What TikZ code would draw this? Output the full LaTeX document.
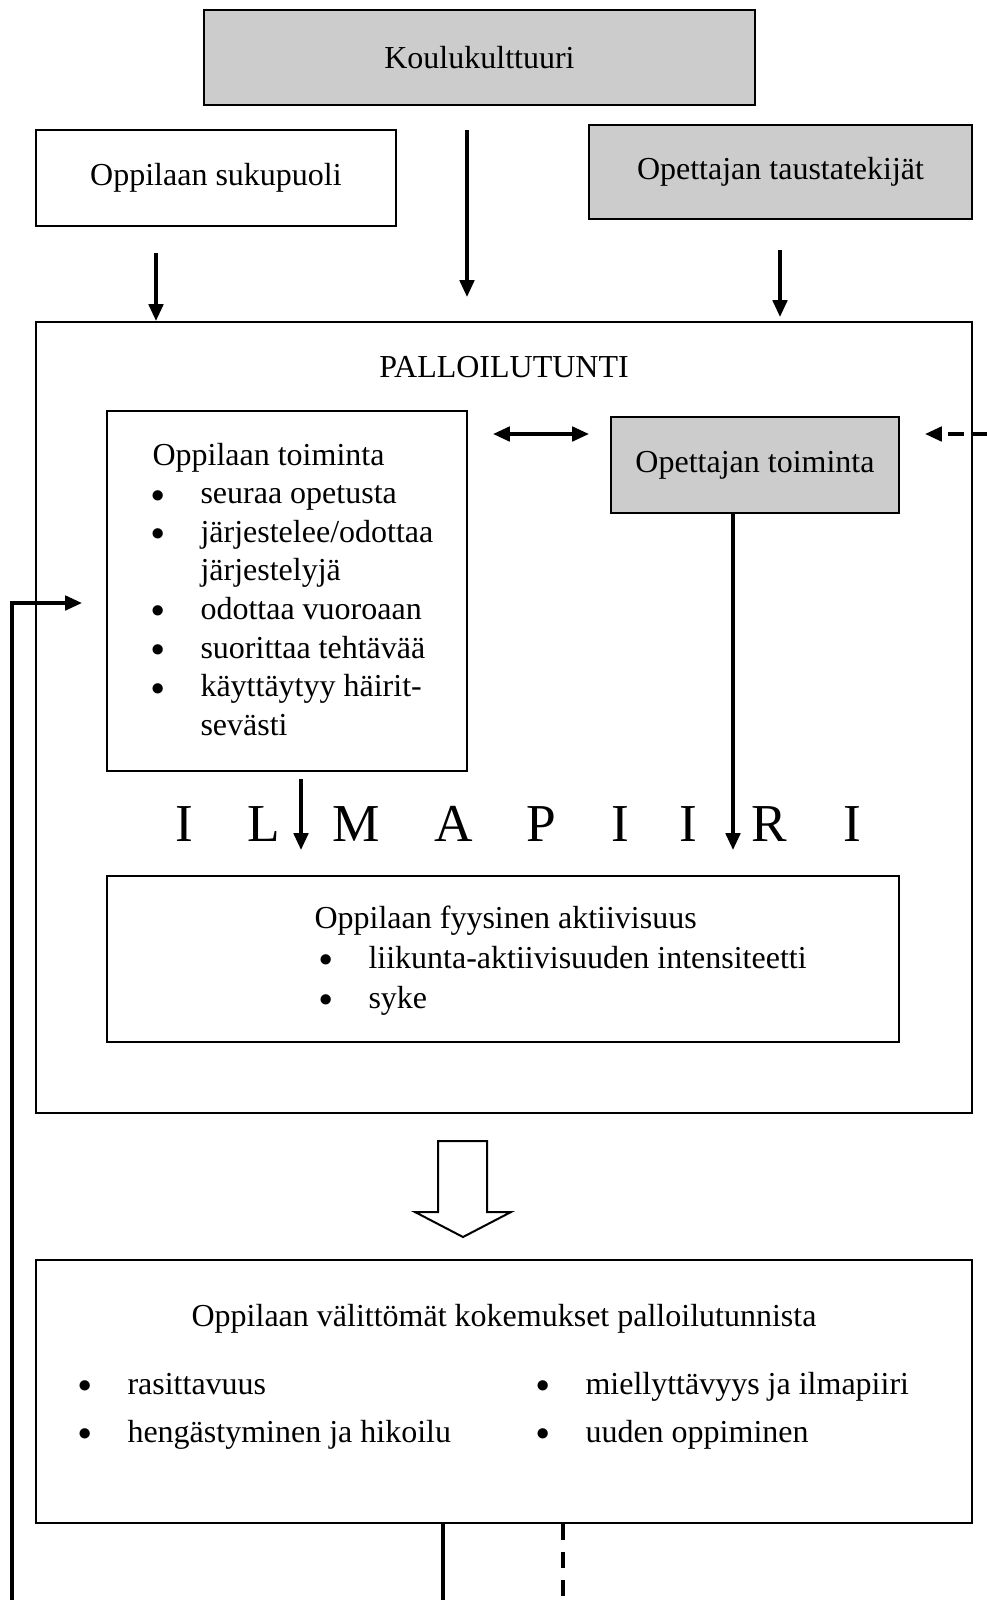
\documentclass[tikz,border=0pt]{standalone}
\usepackage{fontspec}
\setmainfont{Liberation Serif}
\usetikzlibrary{arrows.meta}
\definecolor{boxgrey}{HTML}{CCCCCC}
\newcommand\bul{\llap{\raisebox{0.6pt}{\fontsize{10}{12}\selectfont$\bullet$}\hspace{13.5pt}}}
\tikzset{
	box/.style 2 args={draw, line width=0.75pt, inner sep=0pt, minimum width=#1*0.375pt, minimum height=#2*0.375pt, font=\fontsize{12}{14.5}\selectfont},
	greybox/.style 2 args={box={#1}{#2}, fill=boxgrey},
	txt/.style={anchor=base west, inner sep=0pt, font=\fontsize{12}{14.5}\selectfont},
	ilma/.style={anchor=base, inner sep=0pt, font=\fontsize{20}{24}\selectfont},
	arr/.style={line width=1.3pt, -{Triangle[length=6.3pt,width=5.4pt]}},
	dbl/.style={line width=1.3pt, {Triangle[length=6.3pt,width=5.4pt]}-{Triangle[length=6.3pt,width=5.4pt]}},
}
\begin{document}
\begin{tikzpicture}[x=0.375pt,y=-0.375pt]
	\useasboundingbox (0,0) rectangle (987,1600);

	\node[greybox={551}{95}] (koulu) at (479.5,57.5) {Koulukulttuuri};
	\node[box={360}{96}] (sukupuoli) at (216,178) {Oppilaan sukupuoli};
	\node[greybox={383}{94}] (tausta) at (780.5,172) {Opettajan taustatekijät};
	\node[box={936}{791}] (tunti) at (504,717.5) {};
	\node[box={360}{360}] (oppilas) at (287,591) {};
	\node[greybox={288}{96}] (opettaja) at (755,465) {Opettajan toiminta};
	\node[box={792}{166}] (fyysinen) at (503,959) {};
	\node[box={936}{263}] (kokemus) at (504,1391.5) {};

	\node[txt, anchor=base] (tuntiotsikko) at (504,377) {PALLOILUTUNTI};

	\node[txt] (ot0) at (152,465) {Oppilaan toiminta};
	\foreach \t/\b [count=\i] in {seuraa opetusta/\bul, järjestelee\slash odottaa/\bul, järjestelyjä/, odottaa vuoroaan/\bul, suorittaa tehtävää/\bul, käyttäytyy häirit-/\bul, sevästi/}
		\node[txt] (ot\i) at (200,{465+38.6*\i}) {\b\t};

	\foreach \l/\x [count=\i] in {I/184, L/264, M/356, A/454, P/541, I/620, I/688, R/769, I/852}
		\node[ilma] (ilma\i) at (\x,841) {\l};

	\node[txt] (fa0) at (314,928) {Oppilaan fyysinen aktiivisuus};
	\node[txt] (fa1) at (368,968) {\bul liikunta-aktiivisuuden intensiteetti};
	\node[txt] (fa2) at (368,1008) {\bul syke};

	\node[txt, anchor=base] (ko0) at (504,1326) {Oppilaan välittömät kokemukset palloilutunnista};
	\node[txt] (ko1) at (127,1394) {\bul rasittavuus};
	\node[txt] (ko2) at (127,1442) {\bul hengästyminen ja hikoilu};
	\node[txt] (ko3) at (585,1394) {\bul miellyttävyys ja ilmapiiri};
	\node[txt] (ko4) at (585,1442) {\bul uuden oppiminen};

	\coordinate (s1) at (156,253);
	\coordinate (k1) at (467,130);
	\coordinate (k2) at (467,297);
	\coordinate (t1) at (780,250);
	\coordinate (t2) at (780,317);
	\draw[arr] (s1) -- (s1 |- tunti.north);
	\draw[arr] (k1) -- (k2);
	\draw[arr] (t1) -- (t2);

	\coordinate (v1) at (493,434);
	\coordinate (v2) at (589,434);
	\draw[dbl] (v1) -- (v2);
	\coordinate (d1) at (987,434);
	\coordinate (d2) at (925,434);
	\draw[arr, dash pattern=on 6pt off 2.6pt] (d1) -- (d2);

	\coordinate (f1) at (12,1600);
	\coordinate (f2) at (82,603);
	\draw[arr] (f1) |- (f2);

	\coordinate (a1) at (301,779);
	\coordinate (a2) at (301,850);
	\coordinate (a3) at (733,850);
	\draw[arr] (a1) -- (a2);
	\draw[arr] (a3 |- opettaja.south) -- (a3);

	\draw[line width=0.75pt] (438,1141) -- (487,1141) -- (487,1212) -- (511,1212) -- (463,1237) -- (415,1212) -- (438,1212) -- cycle;

	\coordinate (b1) at (443,1600);
	\coordinate (b2) at (563,1600);
	\draw[line width=1.2pt] (b1 |- kokemus.south) -- (b1);
	\draw[line width=1.6pt, dash pattern=on 6pt off 4.5pt] (b2 |- kokemus.south) -- (b2);

\end{tikzpicture}
\end{document}
